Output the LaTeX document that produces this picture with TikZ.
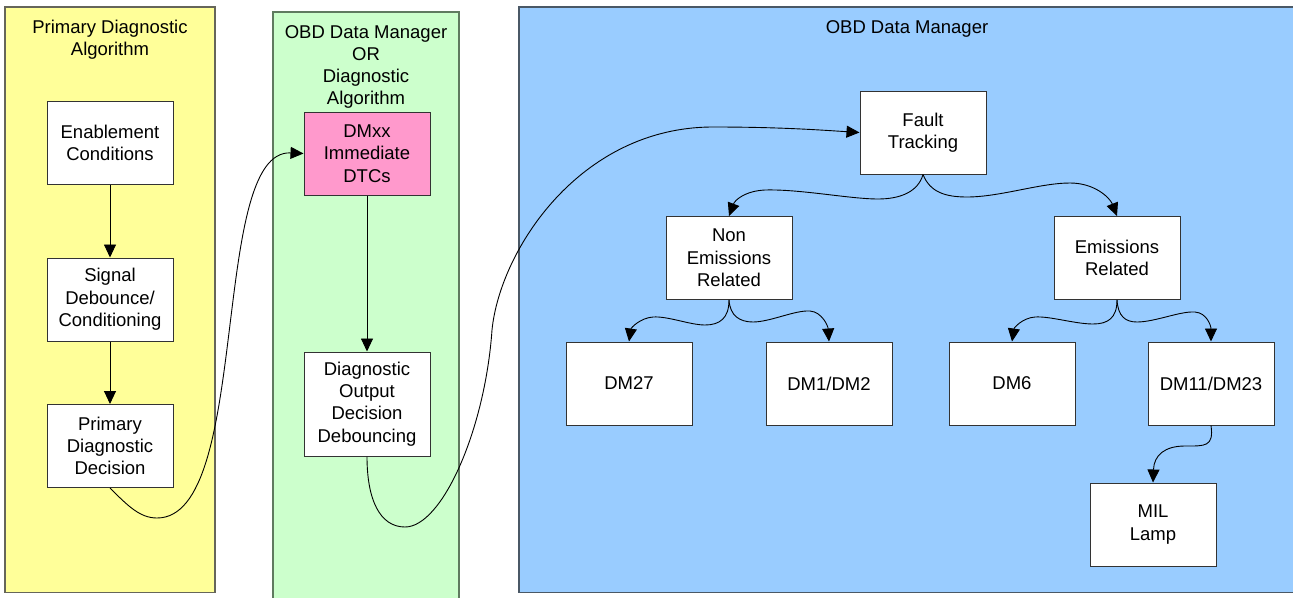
\documentclass[tikz,border=0pt]{standalone}
\usepackage{fontspec}
\setmainfont{Liberation Sans}
\usetikzlibrary{arrows.meta}
\definecolor{pyellow}{HTML}{FFFF99}
\definecolor{pgreen}{HTML}{CCFFCC}
\definecolor{pblue}{HTML}{99CCFF}
\definecolor{ppink}{HTML}{FF99CC}
\definecolor{yborder}{HTML}{66665A}
\definecolor{gborder}{HTML}{5F7A5F}
\definecolor{bborder}{HTML}{4A5866}
\tikzset{
  panel/.style={line width=1.2pt},
  ttl/.style={align=center, font=\fontsize{18.5}{22.3}\selectfont, inner sep=0pt},
  box/.style={draw=black!80, line width=1pt, fill=white, minimum width=126pt, minimum height=83pt,
              align=center, font=\fontsize{18.5}{22.3}\selectfont, inner sep=2pt},
  arr/.style={line width=0.9pt, -{Triangle[length=13pt,width=12pt]}}
}
\begin{document}
\begin{tikzpicture}[x=1pt,y=-1pt]
\useasboundingbox (0,0) rectangle (1293,597);
\fill[white] (0,0) rectangle (1293,597);
\clip (0,0) rectangle (1293,597);
% panels
\draw[panel, fill=pyellow, draw=yborder] (5,7) rectangle (215,592.5);
\draw[panel, fill=pgreen, draw=gborder] (273,12) rectangle (459,610);
\draw[panel, fill=pblue, draw=bborder] (519,7) rectangle (1310,592.5);
% titles
\node[ttl] (t1) at (110,40) {Primary Diagnostic\\Algorithm};
\node[ttl] (t2) at (366,67) {OBD Data Manager\\OR\\Diagnostic\\Algorithm};
\node[ttl] (t3) at (907,29) {OBD Data Manager};
% boxes
\node[box] (en) at (110,143) {Enablement\\Conditions};
\node[box] (sd) at (110,299.5) {Signal\\Debounce/\\Conditioning};
\node[box] (pd) at (110,446) {Primary\\Diagnostic\\Decision};
\node[box, fill=ppink] (dm) at (367,153.5) {DMxx\\Immediate\\DTCs};
\node[box, minimum height=104pt] (dd) at (367,404) {Diagnostic\\Output\\Decision\\Debouncing};
\node[box] (ft) at (923,132.5) {Fault\\Tracking};
\node[box] (ne) at (729,258) {Non\\Emissions\\Related};
\node[box] (er) at (1117,258) {Emissions\\Related};
\node[box] (d27) at (629,383.5) {DM27};
\node[box] (d12) at (829,383.5) {DM1/DM2};
\node[box] (d6) at (1012,383.5) {DM6};
\node[box] (d11) at (1211,383.5) {DM11/DM23};
\node[box] (mil) at (1153,524.5) {MIL\\Lamp};
% straight connectors
\draw[arr] (en.south) -- (sd.north);
\draw[arr] (sd.south) -- (pd.north);
\draw[arr] (dm.south) -- (dd.north);
% long curves
\coordinate (c1) at (157,518);
\draw[arr] (pd.south) .. controls (128,506) and (140,518) .. (c1)
  .. controls (252,518) and (209,149) .. (dm.west);
\coordinate (c2) at (405,527);
\coordinate (c3) at (492,330);
\coordinate (c4) at (713,127);
\draw[arr] (dd.south) .. controls (367,500) and (380,527) .. (c2)
  .. controls (442,527) and (485,430) .. (c3)
  .. controls (500,250) and (580,127) .. (c4)
  .. controls (780,127) and (820,130) .. (ft.west);
% tree curves
\coordinate (f1) at (878,199);
\coordinate (f2) at (765,190);
\draw[arr] (ft.south) .. controls (918,192) and (900,199) .. (f1)
  .. controls (850,199) and (800,189) .. (f2)
  .. controls (745,191) and (735,200) .. (ne.north);
\coordinate (f3) at (967,197);
\coordinate (f4) at (1070,183);
\draw[arr] (ft.south) .. controls (930,192) and (945,197) .. (f3)
  .. controls (1000,197) and (1040,183) .. (f4)
  .. controls (1095,183) and (1110,198) .. (er.north);
\coordinate (n1) at (705,325);
\coordinate (n2) at (653,317);
\draw[arr] (ne.south) .. controls (729,318) and (720,325) .. (n1)
  .. controls (690,325) and (668,316) .. (n2)
  .. controls (640,318) and (631,328) .. (d27.north);
\coordinate (n3) at (753,322);
\coordinate (n4) at (810,311);
\draw[arr] (ne.south) .. controls (730,316) and (740,322) .. (n3)
  .. controls (770,322) and (795,310) .. (n4)
  .. controls (822,312) and (828,326) .. (d12.north);
\coordinate (e1) at (1093,324);
\coordinate (e2) at (1035,317);
\draw[arr] (er.south) .. controls (1117,318) and (1108,324) .. (e1)
  .. controls (1075,324) and (1050,316) .. (e2)
  .. controls (1022,318) and (1014,328) .. (d6.north);
\coordinate (e3) at (1137,322);
\coordinate (e4) at (1195,312);
\draw[arr] (er.south) .. controls (1118,316) and (1125,322) .. (e3)
  .. controls (1155,322) and (1180,311) .. (e4)
  .. controls (1207,313) and (1211,326) .. (d11.north);
\coordinate (m1) at (1185,446);
\draw[arr] (d11.south) .. controls (1214,447) and (1205,446) .. (m1)
  .. controls (1165,446) and (1154,455) .. (mil.north);
\end{tikzpicture}
\end{document}
